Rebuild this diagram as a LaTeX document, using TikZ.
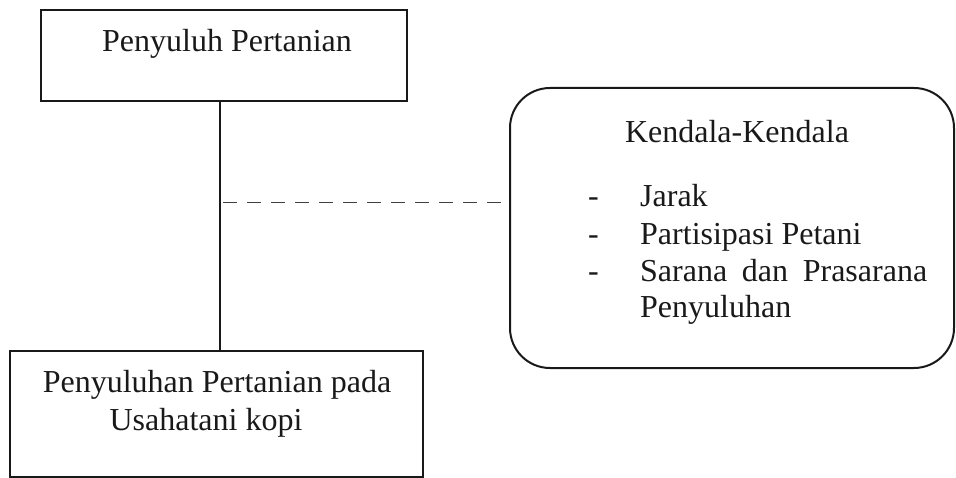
\documentclass[tikz,border=0pt]{standalone}
\usepackage{fontspec}
\setmainfont{Liberation Serif}
\begin{document}
\begin{tikzpicture}[x=1pt,y=-1pt,
  boxline/.style={draw=black!90,line width=2pt},
  txt/.style={anchor=base,inner sep=0pt,font=\fontsize{32}{38}\selectfont,text=black!90},
  txtw/.style={anchor=base west,inner sep=0pt,font=\fontsize{32}{38}\selectfont,text=black!90}]
\useasboundingbox (0,0) rectangle (956,478);
% boxes
\node[boxline,rectangle,minimum width=366pt,minimum height=91pt,inner sep=0pt] (top) at (224,55.5) {};
\node[boxline,rectangle,minimum width=413pt,minimum height=126pt,inner sep=0pt] (bot) at (216.5,414) {};
\node[boxline,rectangle,rounded corners=40pt,minimum width=444pt,minimum height=280pt,inner sep=0pt] (ken) at (732,228) {};
% texts
\node[txt] (t1) at (227,52) {Penyuluh Pertanian};
\node[txt] (b1) at (217,392) {Penyuluhan Pertanian pada};
\node[txt] (b2) at (206,430) {Usahatani kopi};
\node[txt] (k0) at (737,143) {Kendala-Kendala};
\node[txtw] (d1) at (588,207) {-};
\node[txtw] (d2) at (588,245) {-};
\node[txtw] (d3) at (588,282) {-};
\node[txtw] (k1) at (640,207) {Jarak};
\node[txtw] (k2) at (640,245) {Partisipasi Petani};
\node[txtw] (k3) at (640,282) {\hbox to 287pt{Sarana\hfil dan\hfil Prasarana}};
\node[txtw] (k4) at (640,318) {Penyuluhan};
% connectors
\draw[line width=2pt,black!90] (top.south -| 220,0) -- (bot.north -| 220,0) coordinate[pos=0.405] (mid);
\coordinate (dend) at (mid -| ken.west);
\draw[line width=1.5pt,black!75,dash pattern=on 14pt off 10pt] ([xshift=3pt]mid) -- ([xshift=-4pt]dend);
\end{tikzpicture}
\end{document}
